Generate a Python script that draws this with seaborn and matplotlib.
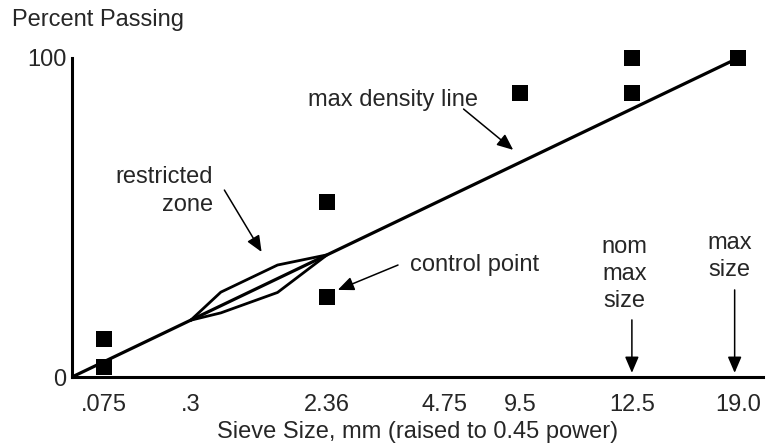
import matplotlib
matplotlib.use("Agg")
import matplotlib.pyplot as plt
import seaborn as sns

# ------------------- Data ------------------- #

# sieve sizes (tick labels) and their place on the schematic 0.45-power axis
sieve_labels = [".075", ".3", "2.36", "4.75", "9.5", "12.5", "19.0"]
sieve_pos = [0.18, 0.67, 1.44, 2.10, 2.53, 3.16, 3.76]

# control points (x position, percent passing)
ctrl_x = [0.18, 0.18, 1.44, 1.44, 2.53, 3.16, 3.16, 3.76]
ctrl_y = [12, 3, 55, 25, 89, 100, 89, 100]

# maximum density line
mdl_x = [0.0, 3.76]
mdl_y = [0, 100]

# restricted zone (upper edge then lower edge back)
zone_x = [0.67, 0.84, 1.16, 1.44, 1.16, 0.84, 0.67]
zone_y = [17.8, 26.6, 35.1, 38.3, 26.5, 20.1, 17.8]

# ------------------- Plot ------------------- #

sns.set_style("white")
plt.rcParams['font.family'] = ['Liberation Sans', 'DejaVu Sans']
FS = 17

fig = plt.figure(figsize=(7.71, 4.47), dpi=100)
ax = fig.add_axes([72 / 771, 1 - 377 / 447, (763 - 72) / 771, (377 - 58) / 447])

sns.lineplot(x=mdl_x, y=mdl_y, color="black", linewidth=2.3, ax=ax)
sns.lineplot(x=zone_x, y=zone_y, color="black", linewidth=2.0, sort=False,
             estimator=None, ax=ax)
sns.scatterplot(x=ctrl_x, y=ctrl_y, marker="s", s=125, color="black",
                linewidth=0, clip_on=False, zorder=5, ax=ax)

ax.set_xlim(0, 3.90)
ax.set_ylim(0, 100)

sns.despine(ax=ax)
for side in ["left", "bottom"]:
    ax.spines[side].set_linewidth(2.2)
    ax.spines[side].set_color("black")

ax.set_xticks(sieve_pos)
ax.set_xticklabels(sieve_labels, fontsize=FS)
ax.set_yticks([0, 100])
ax.set_yticklabels(["0", "100"], fontsize=FS)
ax.tick_params(axis="both", length=0)
ax.tick_params(axis="x", pad=12)
ax.tick_params(axis="y", pad=4)
ax.set_xlabel("Sieve Size, mm (raised to 0.45 power)", fontsize=FS, labelpad=4)

fig.text(12 / 771, 1 - 20 / 447, "Percent Passing", fontsize=FS, va="center", ha="left")

arrow = dict(arrowstyle="-|>,head_length=0.7,head_width=0.3", color="black",
             linewidth=1.1, mutation_scale=14, shrinkA=0, shrinkB=0)

# max density line label
ax.text(2.29, 86.8, "max density line", fontsize=FS, ha="right", va="center")
ax.annotate("", xy=(2.49, 71.2), xytext=(2.21, 84.0), arrowprops=arrow)

# restricted zone label
ax.text(0.795, 58.3, "restricted\nzone", fontsize=FS, ha="right", va="center",
        multialignment="right", linespacing=1.3)
ax.annotate("", xy=(1.07, 39.2), xytext=(0.86, 58.6), arrowprops=arrow)

# control point label
ax.text(1.91, 35.1, "control point", fontsize=FS, ha="left", va="center")
ax.annotate("", xy=(1.50, 27.3), xytext=(1.84, 35.1), arrowprops=arrow)

# nominal max size / max size
ax.text(3.12, 32.3, "nom\nmax\nsize", fontsize=FS, ha="center", va="center",
        linespacing=1.3)
ax.annotate("", xy=(3.16, 1.3), xytext=(3.16, 17.9), arrowprops=arrow)
ax.text(3.71, 37.9, "max\nsize", fontsize=FS, ha="center", va="center",
        linespacing=1.3)
ax.annotate("", xy=(3.74, 1.3), xytext=(3.74, 27.3), arrowprops=arrow)

fig.savefig("out.png", dpi=100)
